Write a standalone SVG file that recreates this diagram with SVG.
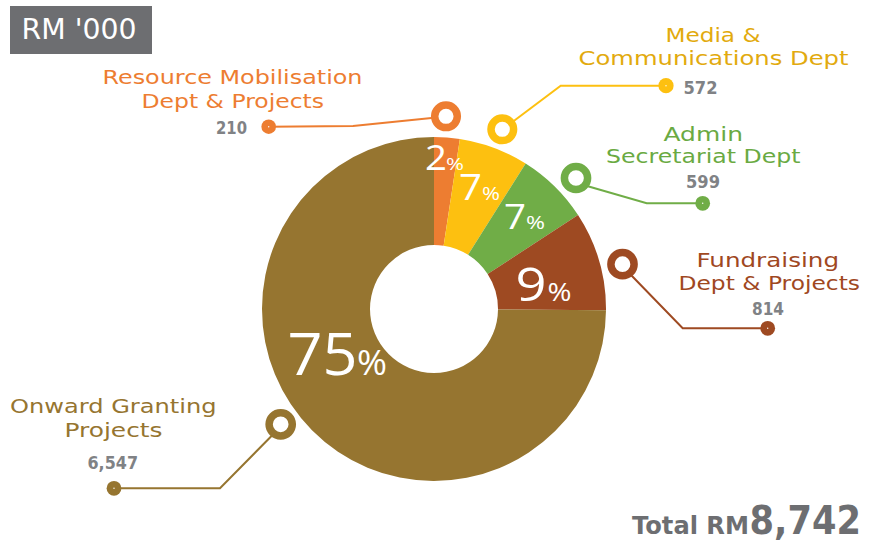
<svg xmlns="http://www.w3.org/2000/svg" width="883" height="542" viewBox="0 0 883 542">
<style>
.lbl{font-family:"DejaVu Sans","Liberation Sans",sans-serif;font-size:20px;}
.num{font-family:"DejaVu Sans","Liberation Sans",sans-serif;font-size:17px;font-weight:700;fill:#808285;}
.pct{font-family:"Open Sans","DejaVu Sans",sans-serif;font-weight:400;fill:#ffffff;}
.ln{fill:none;stroke-width:2;}
.ring{fill:#ffffff;stroke-width:7.5;}
.dc{fill:#ffffff;}
.c1{fill:#ED7D31;} .s1{stroke:#ED7D31;}
.c2{fill:#FDC010;} .s2{stroke:#FDC010;}
.c3{fill:#70AD47;} .s3{stroke:#70AD47;}
.c4{fill:#9E4A22;} .s4{stroke:#9E4A22;}
.c5{fill:#967530;} .s5{stroke:#967530;}
.t2{fill:#E2AA0E;}
.t3{fill:#6AAA42;}
.t4{fill:#A0481F;}
</style>
<g id="unit-box">
<rect x="10" y="6" width="142" height="48" fill="#6D6E71"/>
<text x="21.5" y="39.3" font-family="DejaVu Sans, Liberation Sans, sans-serif" font-size="29" fill="#ffffff" textLength="115" lengthAdjust="spacingAndGlyphs">RM '000</text>
</g>
<g id="slices">
<path id="slice-resource" class="c1" d="M434,137 A172,172 0 0 1 459.86,138.96 L443.62,245.73 A64,64 0 0 0 434,245 Z"/>
<path id="slice-media" class="c2" d="M459.86,138.96 A172,172 0 0 1 525.66,163.45 L468.10,254.84 A64,64 0 0 0 443.62,245.73 Z"/>
<path id="slice-admin" class="c3" d="M525.66,163.45 A172,172 0 0 1 578.04,215.00 L487.60,274.02 A64,64 0 0 0 468.10,254.84 Z"/>
<path id="slice-fundraising" class="c4" d="M578.04,215.00 A172,172 0 0 1 606.00,310.17 L498.00,309.44 A64,64 0 0 0 487.60,274.02 Z"/>
<path id="slice-onward" class="c5" d="M606.00,310.17 A172,172 0 1 1 434,137 L434,245 A64,64 0 1 0 498.00,309.44 Z"/>
</g>
<g id="percentages">
<text class="pct" x="425" y="170" font-size="34" textLength="22" lengthAdjust="spacingAndGlyphs">2</text>
<text class="pct" x="446" y="170" font-size="17" textLength="18" lengthAdjust="spacingAndGlyphs">%</text>
<text class="pct" x="459" y="200" font-size="36" textLength="23" lengthAdjust="spacingAndGlyphs">7</text>
<text class="pct" x="482" y="200" font-size="19" textLength="18" lengthAdjust="spacingAndGlyphs">%</text>
<text class="pct" x="504" y="229.3" font-size="35" textLength="22" lengthAdjust="spacingAndGlyphs">7</text>
<text class="pct" x="526" y="229.3" font-size="19" textLength="19" lengthAdjust="spacingAndGlyphs">%</text>
<text class="pct" x="515.5" y="301" font-size="45" textLength="31" lengthAdjust="spacingAndGlyphs">9</text>
<text class="pct" x="547.5" y="301" font-size="26" textLength="24" lengthAdjust="spacingAndGlyphs">%</text>
<text class="pct" x="287.5" y="375" font-size="58" textLength="70" lengthAdjust="spacingAndGlyphs">75</text>
<text class="pct" x="357" y="375" font-size="34" textLength="30" lengthAdjust="spacingAndGlyphs">%</text>
</g>
<g id="connectors">
<polyline class="ln s1" points="268.7,126.7 353,126 434,117.7"/>
<polyline class="ln s2" points="666,85.7 560.7,85.7 512.1,122.3"/>
<polyline class="ln s3" points="702.7,203.3 646.7,203.3 587,186"/>
<polyline class="ln s4" points="767.7,328.3 682.7,328.3 631,275"/>
<polyline class="ln s5" points="114,488.3 220,488.3 272,435.5"/>
<circle class="ring s1" cx="446" cy="116.3" r="11.3"/>
<circle class="ring s2" cx="502.3" cy="129.3" r="11.3"/>
<circle class="ring s3" cx="576" cy="178" r="11.6"/>
<circle class="ring s4" cx="622.5" cy="264.2" r="11.6"/>
<circle class="ring s5" cx="280.7" cy="424.3" r="11.6"/>
<circle class="c1" cx="268.7" cy="126.7" r="7.3"/><circle class="dc" cx="268.7" cy="126.7" r="0.7"/>
<circle class="c2" cx="666" cy="85.7" r="7.6"/><circle class="dc" cx="666" cy="85.7" r="0.7"/>
<circle class="c3" cx="702.7" cy="203.3" r="7.4"/><circle class="dc" cx="702.7" cy="203.3" r="0.7"/>
<circle class="c4" cx="767.7" cy="328.3" r="7.4"/><circle class="dc" cx="767.7" cy="328.3" r="0.7"/>
<circle class="c5" cx="114" cy="488.3" r="7.4"/><circle class="dc" cx="114" cy="488.3" r="0.7"/>
</g>
<g id="node-resource">
<text class="lbl c1" x="102.5" y="84.3" textLength="260" lengthAdjust="spacingAndGlyphs">Resource Mobilisation</text>
<text class="lbl c1" x="141.5" y="108.3" textLength="182.5" lengthAdjust="spacingAndGlyphs">Dept &amp; Projects</text>
<text class="num" x="216" y="134" textLength="31" lengthAdjust="spacingAndGlyphs">210</text>
</g>
<g id="node-media">
<text class="lbl t2" x="665.5" y="41.7" textLength="95" lengthAdjust="spacingAndGlyphs">Media &amp;</text>
<text class="lbl t2" x="578.5" y="65" textLength="270" lengthAdjust="spacingAndGlyphs">Communications Dept</text>
<text class="num" x="683.5" y="94" textLength="34" lengthAdjust="spacingAndGlyphs">572</text>
</g>
<g id="node-admin">
<text class="lbl t3" x="663.5" y="140.7" textLength="79.5" lengthAdjust="spacingAndGlyphs">Admin</text>
<text class="lbl t3" x="606" y="163.3" textLength="194.5" lengthAdjust="spacingAndGlyphs">Secretariat Dept</text>
<text class="num" x="686" y="188.3" textLength="34" lengthAdjust="spacingAndGlyphs">599</text>
</g>
<g id="node-fundraising">
<text class="lbl t4" x="696.5" y="266.7" textLength="142.5" lengthAdjust="spacingAndGlyphs">Fundraising</text>
<text class="lbl t4" x="678.5" y="290" textLength="181.5" lengthAdjust="spacingAndGlyphs">Dept &amp; Projects</text>
<text class="num" x="752" y="315" textLength="32" lengthAdjust="spacingAndGlyphs">814</text>
</g>
<g id="node-onward">
<text class="lbl c5" x="10" y="413.3" textLength="206.5" lengthAdjust="spacingAndGlyphs">Onward Granting</text>
<text class="lbl c5" x="64.5" y="436.7" textLength="98" lengthAdjust="spacingAndGlyphs">Projects</text>
<text class="num" x="87.5" y="469" textLength="50.5" lengthAdjust="spacingAndGlyphs">6,547</text>
</g>
<g id="total">
<text x="632" y="534" font-family="DejaVu Sans, Liberation Sans, sans-serif" font-size="24" font-weight="700" fill="#6D6E71" textLength="117" lengthAdjust="spacingAndGlyphs">Total RM</text>
<text x="749.5" y="534" font-family="DejaVu Sans, Liberation Sans, sans-serif" font-size="39" font-weight="700" fill="#6D6E71" textLength="111.5" lengthAdjust="spacingAndGlyphs">8,742</text>
</g>
</svg>
